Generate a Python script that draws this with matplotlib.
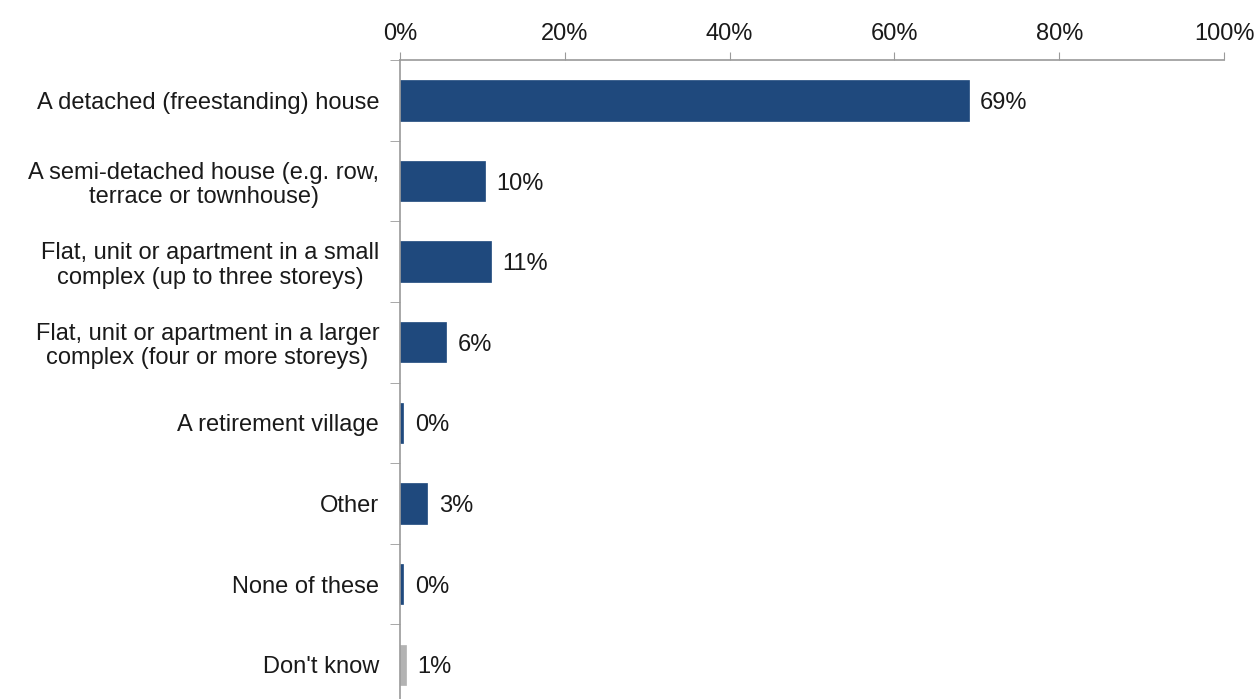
import matplotlib.pyplot as plt
import numpy as np

plt.rcParams['font.family'] = ['Liberation Sans', 'DejaVu Sans']

categories = [
    "A detached (freestanding) house",
    "A semi-detached house (e.g. row,\nterrace or townhouse)",
    "Flat, unit or apartment in a small\ncomplex (up to three storeys)",
    "Flat, unit or apartment in a larger\ncomplex (four or more storeys)",
    "A retirement village",
    "Other",
    "None of these",
    "Don't know",
]
shares = [69.0, 10.3, 11.0, 5.6, 0.4, 3.3, 0.4, 0.7]
colors = ["#1F497D"] * 7 + ["#B3B3B3"]

fig = plt.figure(figsize=(12.58, 6.99), dpi=100)
ax = fig.add_axes([0.318, -0.0086, 0.655, 0.9226])

y = np.arange(len(categories))
ax.barh(y, shares, height=0.5, color=colors, edgecolor=colors, linewidth=0.5)

for yi, v in zip(y, shares):
    ax.text(v + 1.4, yi, f"{round(v):.0f}%", va="center_baseline", ha="left",
            fontsize=17, color="#1a1a1a")

ax.set_xlim(0, 100)
ax.set_ylim(len(categories) - 0.5, -0.5)

ax.xaxis.tick_top()
ax.set_xticks(np.arange(0, 101, 20))
ax.set_xticklabels([f"{t}%" for t in range(0, 101, 20)])
ax.tick_params(axis="x", length=6, color="#9a9a9a", labelsize=17,
               pad=5, labelcolor="#1a1a1a")

ax.set_yticks(y)
ax.set_yticklabels(categories, multialignment="center", linespacing=1.15)
ax.tick_params(axis="y", which="major", length=0, labelsize=17, pad=15,
               labelcolor="#1a1a1a")
ax.set_yticks(np.arange(-0.5, len(categories), 1), minor=True)
ax.tick_params(axis="y", which="minor", length=7, color="#9a9a9a")

for side in ("right", "bottom"):
    ax.spines[side].set_visible(False)
for side in ("top", "left"):
    ax.spines[side].set_color("#9a9a9a")
    ax.spines[side].set_linewidth(1.2)

fig.savefig("out.png", dpi=100)
